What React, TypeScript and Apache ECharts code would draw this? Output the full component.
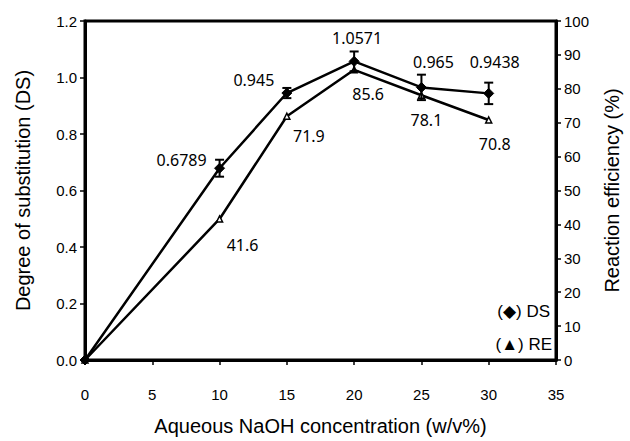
import React, { useEffect, useRef } from 'react';
import * as echarts from 'echarts';

const concentration = [0, 10, 15, 20, 25, 30];
const dsValues = [0, 0.6789, 0.945, 1.0571, 0.965, 0.9438];
const dsErrors = [0, 0.03, 0.018, 0.035, 0.045, 0.038];
const reValues = [0, 41.6, 71.9, 85.6, 78.1, 70.8];
const dsLabels = ['', '0.6789', '0.945', '1.0571', '0.965', '0.9438'];
const reLabels = ['', '41.6', '71.9', '85.6', '78.1', '70.8'];
const xTicks = { min: 0, max: 35, interval: 5 };
const dsTicks = { min: 0, max: 1.2, interval: 0.2 };
const reTicks = { min: 0, max: 100, interval: 10 };

const dsLabelOffsets = [[0, 0], [-38, -8], [-33, -13], [3, -23], [12, -25], [6, -31]];
const reLabelOffsets = [[0, 0], [23, 26], [22, 20], [14, 24], [5, 25], [6, 24]];

const AXIS_FONT = 'Liberation Sans, Arial, sans-serif';
const LABEL_FONT = 'Noto Sans, Open Sans, sans-serif';

export default function App() {
  const ref = useRef<HTMLDivElement>(null);
  useEffect(() => {
    if (!ref.current) return;
    const chart = echarts.init(ref.current, undefined, { renderer: 'svg' });
    const axisCommon = {
      axisLine: { show: true, lineStyle: { color: '#000', width: 3 } },
      axisTick: { show: true, inside: false, length: 5, lineStyle: { color: '#000', width: 1.5 } },
      splitLine: { show: false },
      nameLocation: 'middle' as const,
      nameTextStyle: { color: '#000', fontSize: 20, fontFamily: AXIS_FONT },
    };
    const mkLabel = (text: string, off: number[]) => ({
      show: text !== '',
      formatter: text,
      position: 'inside',
      offset: off,
      color: '#000',
      fontSize: 16,
      fontFamily: LABEL_FONT,
    });
    chart.setOption({
      animation: false,
      backgroundColor: '#fff',
      grid: { left: 85, right: 67, top: 21, bottom: 78, show: true, borderColor: '#000', borderWidth: 3, containLabel: false },
      xAxis: {
        type: 'value',
        ...xTicks,
        ...axisCommon,
        name: 'Aqueous NaOH concentration (w/v%)',
        nameGap: 56,
        axisLabel: { color: '#000', fontSize: 15, fontFamily: AXIS_FONT, margin: 27 },
      },
      yAxis: [
        {
          type: 'value',
          ...dsTicks,
          ...axisCommon,
          position: 'left',
          name: 'Degree of substitution (DS)',
          nameGap: 52,
          axisLabel: { color: '#000', fontSize: 15, fontFamily: AXIS_FONT, margin: 8, formatter: (v: number) => v.toFixed(1) },
        },
        {
          type: 'value',
          ...reTicks,
          ...axisCommon,
          position: 'right',
          name: 'Reaction efficiency (%)',
          nameGap: 46,
          axisLabel: { color: '#000', fontSize: 15, fontFamily: AXIS_FONT, margin: 8 },
        },
      ],
      series: [
        {
          type: 'line',
          yAxisIndex: 1,
          data: concentration.map((x, i) => ({
            value: [x, reValues[i]],
            label: mkLabel(reLabels[i], reLabelOffsets[i]),
          })),
          symbol: 'triangle',
          symbolSize: 6,
          lineStyle: { color: '#000', width: 2.5 },
          itemStyle: { color: '#fff', borderColor: '#000', borderWidth: 1.5 },
          z: 2,
        },
        {
          type: 'line',
          yAxisIndex: 0,
          data: concentration.map((x, i) => ({
            value: [x, dsValues[i]],
            label: mkLabel(dsLabels[i], dsLabelOffsets[i]),
          })),
          symbol: 'diamond',
          symbolSize: 10,
          lineStyle: { color: '#000', width: 2.5 },
          itemStyle: { color: '#000', borderColor: '#000', borderWidth: 1 },
          z: 3,
        },
        {
          type: 'custom',
          yAxisIndex: 0,
          data: concentration.map((x, i) => [x, dsValues[i], dsErrors[i]]).filter((d) => d[2] > 0),
          encode: { x: 0, y: 1 },
          z: 4,
          renderItem: (params: any, api: any) => {
            const x = api.value(0);
            const y = api.value(1);
            const e = api.value(2);
            const hi = api.coord([x, y + e]);
            const lo = api.coord([x, y - e]);
            const w = 4.5;
            const style = { stroke: '#000', lineWidth: 2 };
            return {
              type: 'group',
              children: [
                { type: 'line', shape: { x1: hi[0], y1: hi[1], x2: lo[0], y2: lo[1] }, style },
                { type: 'line', shape: { x1: hi[0] - w, y1: hi[1], x2: hi[0] + w, y2: hi[1] }, style },
                { type: 'line', shape: { x1: lo[0] - w, y1: lo[1], x2: lo[0] + w, y2: lo[1] }, style },
              ],
            };
          },
        },
      ],
      graphic: [
        {
          type: 'text',
          right: 630 - 550,
          top: 303,
          style: { text: '(◆) DS', fontSize: 17, fontFamily: 'Liberation Sans, DejaVu Sans, sans-serif', fill: '#000' },
        },
        {
          type: 'text',
          right: 630 - 552,
          top: 336,
          style: { text: '(▲) RE', fontSize: 17, fontFamily: 'Liberation Sans, DejaVu Sans, sans-serif', fill: '#000' },
        },
      ],
    });
    return () => chart.dispose();
  }, []);
  return <div ref={ref} style={{ width: 630, height: 441, position: 'absolute', left: 0, top: 0 }} />;
}
